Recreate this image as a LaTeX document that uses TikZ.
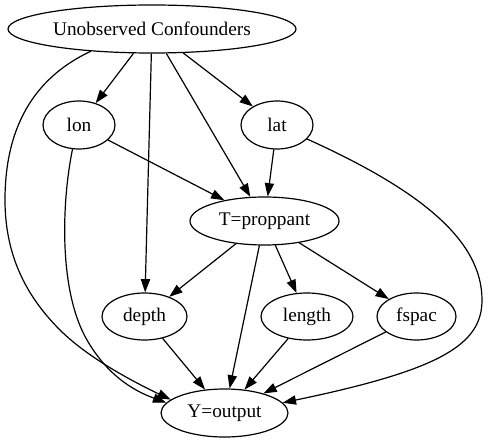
\documentclass[tikz,border=0pt]{standalone}
\usepackage{fontspec}
\setmainfont{Liberation Serif}
\usetikzlibrary{shapes.geometric,arrows.meta}
\begin{document}
\begin{tikzpicture}[x=1pt,y=-1pt,
  nd/.style={ellipse,draw,line width=1.2pt,inner sep=0pt,font=\fontsize{19.3}{23}\selectfont},
  ed/.style={line width=1.2pt,-{Triangle[length=13.3pt,width=9.3pt]}}]
\useasboundingbox (0,0) rectangle (489,443);
\node[nd,minimum width=288pt,minimum height=48pt] (uc) at (152,29) {Unobserved Confounders};
\node[nd,minimum width=72pt,minimum height=48pt] (lon) at (79,125) {lon};
\node[nd,minimum width=72pt,minimum height=48pt] (lat) at (277,125) {lat};
\node[nd,minimum width=149pt,minimum height=48pt] (t) at (264.5,221) {T=proppant};
\node[nd,minimum width=85pt,minimum height=47pt] (depth) at (144.5,316.5) {depth};
\node[nd,minimum width=92pt,minimum height=47pt] (length) at (307,316.5) {length};
\node[nd,minimum width=79pt,minimum height=47pt] (fspac) at (416.5,316.5) {fspac};
\node[nd,minimum width=127pt,minimum height=48pt] (y) at (224.5,413) {Y=output};
% straight edges
\draw[ed] (uc) -- (lon);
\draw[ed] (uc) -- (lat);
\draw[ed] (uc) -- (t);
\draw[ed] (uc) -- (depth);
\draw[ed] (lon) -- (t);
\draw[ed] (lat) -- (t);
\draw[ed] (t) -- (depth);
\draw[ed] (t) -- (y);
\draw[ed] (t) -- (length);
\draw[ed] (t) -- (fspac);
\draw[ed] (depth) -- (y);
\draw[ed] (length) -- (y);
\draw[ed] (fspac) -- (y);
% curved edges
\draw[ed] (uc.200) .. controls (40,75) and (5,120) .. (5,200)
  .. controls (5,260) and (30,300) .. (60,330)
  .. controls (90,360) and (140,385) .. (y.166);
\draw[ed] (lon.255) .. controls (62,200) and (58,290) .. (87,340)
  .. controls (110,380) and (140,393) .. (y.170);
\draw[ed] (lat.335) .. controls (420,190) and (482,240) .. (482,300)
  .. controls (482,345) and (440,370) .. (y.10);
\end{tikzpicture}
\end{document}
